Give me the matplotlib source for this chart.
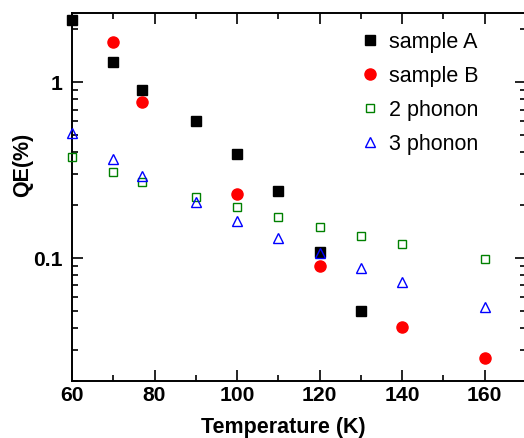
import numpy as np
import matplotlib.pyplot as plt

plt.rcParams['font.family'] = ['Liberation Sans', 'DejaVu Sans']

# sample A (black squares)
tA = [60, 70, 77, 90, 100, 110, 120, 130]
qeA = [2.25, 1.30, 0.90, 0.60, 0.39, 0.241, 0.108, 0.050]

# sample B (red circles)
tB = [70, 77, 100, 120, 140, 160]
qeB = [1.70, 0.776, 0.231, 0.090, 0.0404, 0.027]

# model curves
t_ph = [60, 70, 77, 90, 100, 110, 120, 130, 140, 160]
qe_2ph = [0.378, 0.310, 0.272, 0.224, 0.195, 0.171, 0.151, 0.134, 0.121, 0.099]
qe_3ph = [0.513, 0.367, 0.295, 0.208, 0.163, 0.130, 0.107, 0.088, 0.073, 0.053]

fig = plt.figure(figsize=(5.24, 4.38), dpi=100)
W, H = 524, 438
ax = fig.add_axes([72 / W, (H - 381) / H, (526 - 72) / W, (381 - 13) / H])

ax.plot(tA, qeA, 's', color='black', ms=7.3, ls='none', label='sample A', clip_on=False, zorder=3)
ax.plot(tB, qeB, 'o', color='red', ms=8, ls='none', label='sample B', clip_on=False, zorder=3)
ax.plot(t_ph, qe_2ph, 's', mfc='none', mec='green', mew=1.0, ms=5.2, ls='none', label='2 phonon',
        clip_on=False, zorder=4)
ax.plot(t_ph, qe_3ph, '^', mfc='none', mec='blue', mew=1.0, ms=7, ls='none', label='3 phonon',
        clip_on=False, zorder=4)

ax.set_yscale('log')
ax.set_xlim(60, 170)
ax.set_ylim(0.02, 2.48)

ax.set_xticks([60, 80, 100, 120, 140, 160])
ax.set_xticks(np.arange(70, 171, 20), minor=True)
ax.set_yticks([0.1, 1])
ax.set_yticklabels(['0.1', '1'])
ax.yaxis.set_minor_formatter(plt.NullFormatter())

ax.tick_params(which='both', direction='in', top=True, right=True, width=1.2)
ax.tick_params(which='major', length=8, labelsize=15.2)
ax.tick_params(axis='x', which='major', pad=3.5)
ax.tick_params(axis='y', which='major', pad=6.5)
ax.tick_params(which='minor', length=4.5)
for lbl in ax.get_xticklabels() + ax.get_yticklabels():
    lbl.set_fontweight('bold')
for sp in ax.spines.values():
    sp.set_linewidth(1.4)

ax.set_xlabel('Temperature (K)', fontsize=15.5, fontweight='bold')
ax.xaxis.set_label_coords(0.466, -0.097)
ax.set_ylabel('QE(%)', fontsize=15.5, fontweight='bold')
ax.yaxis.set_label_coords(-0.086, 0.587)

ax.legend(loc='upper left', bbox_to_anchor=(361 / W, (H - 32) / H), bbox_transform=fig.transFigure,
          frameon=False, fontsize=15.5, handlelength=0.85, handletextpad=0.45, labelspacing=0.6,
          borderpad=0, borderaxespad=0, numpoints=1)

fig.savefig('out.png', dpi=100)
